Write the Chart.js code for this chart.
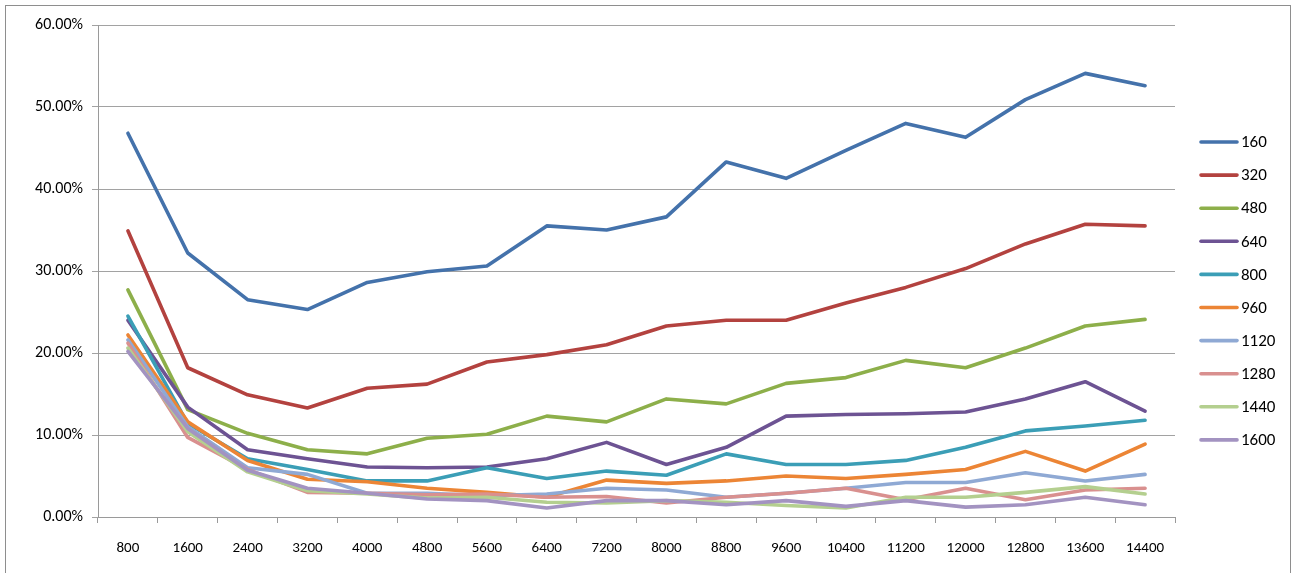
<!DOCTYPE html>
<html>
<head>
<meta charset="utf-8">
<title>Error rate by size</title>
<script src="https://cdn.jsdelivr.net/npm/chart.js@4.4.1/dist/chart.umd.min.js"></script>
<style>
  html, body { margin: 0; padding: 0; background: #fff; overflow: hidden; }
  #wrap { position: relative; width: 1295px; height: 573px; }
  #frame { position: absolute; left: 5px; top: 5px; width: 1286px; height: 600px;
           border: 1px solid #8e8e8e; box-sizing: border-box; pointer-events: none; }
  canvas { position: absolute; left: 0; top: 0; }
</style>
</head>
<body>
<div id="wrap">
  <canvas id="c" width="1295" height="573"></canvas>
  <div id="frame"></div>
</div>
<script>
// x categories
const categories = ['800','1600','2400','3200','4000','4800','5600','6400','7200',
  '8000','8800','9600','10400','11200','12000','12800','13600','14400'];

// series names
const seriesNames = ['160','320','480','640','800','960','1120','1280','1440','1600'];

// values in percent
const s160  = [46.8, 32.2, 26.5, 25.3, 28.6, 29.9, 30.6, 35.5, 35.0, 36.6, 43.3, 41.3, 44.7, 48.0, 46.3, 50.9, 54.1, 52.6];
const s320  = [34.9, 18.2, 14.9, 13.3, 15.7, 16.2, 18.9, 19.8, 21.0, 23.3, 24.0, 24.0, 26.1, 28.0, 30.3, 33.3, 35.7, 35.5];
const s480  = [27.7, 13.1, 10.2,  8.2,  7.7,  9.6, 10.1, 12.3, 11.6, 14.4, 13.8, 16.3, 17.0, 19.1, 18.2, 20.6, 23.3, 24.1];
const s640  = [24.0, 13.4,  8.2,  7.1,  6.1,  6.0,  6.1,  7.1,  9.1,  6.4,  8.5, 12.3, 12.5, 12.6, 12.8, 14.4, 16.5, 12.9];
const s800  = [24.5, 11.4,  7.1,  5.8,  4.4,  4.4,  6.0,  4.7,  5.6,  5.1,  7.7,  6.4,  6.4,  6.9,  8.5, 10.5, 11.1, 11.8];
const s960  = [22.2, 11.6,  6.9,  4.6,  4.3,  3.5,  3.0,  2.4,  4.5,  4.1,  4.4,  5.0,  4.7,  5.2,  5.8,  8.0,  5.6,  8.9];
const s1120 = [21.6, 11.0,  6.0,  5.2,  2.9,  2.9,  2.6,  2.8,  3.5,  3.3,  2.4,  2.9,  3.5,  4.2,  4.2,  5.4,  4.4,  5.2];
const s1280 = [21.2,  9.7,  5.8,  3.0,  2.9,  2.7,  2.8,  2.4,  2.5,  1.7,  2.4,  2.9,  3.5,  2.1,  3.5,  2.1,  3.3,  3.5];
const s1440 = [20.6, 10.4,  5.5,  3.2,  2.8,  2.3,  2.4,  1.8,  1.7,  2.0,  1.8,  1.4,  1.1,  2.4,  2.4,  3.0,  3.7,  2.8];
const s1600 = [20.2, 10.8,  5.7,  3.5,  2.9,  2.2,  2.0,  1.1,  2.0,  2.0,  1.5,  2.0,  1.3,  2.0,  1.2,  1.5,  2.4,  1.5];

// y-axis range
const yMin = 0, yMax = 60, yStep = 10;

const seriesValues = [s160, s320, s480, s640, s800, s960, s1120, s1280, s1440, s1600];
const colors = ['#4472AB', '#B3423F', '#8DAF4A', '#6D5393', '#3B9EB6',
                '#EC8535', '#8FA9D4', '#D9908F', '#B4CF8F', '#A393C1'];

const FONT = 'Carlito, Lato, "Liberation Sans", sans-serif';

const datasets = seriesNames.map((name, i) => ({
  label: name,
  data: seriesValues[i],
  borderColor: colors[i],
  backgroundColor: colors[i],
  borderWidth: 3.6,
  borderCapStyle: 'round',
  borderJoinStyle: 'round',
  pointRadius: 0,
  pointHoverRadius: 0,
  tension: 0,
  fill: false,
  order: seriesNames.length - i   // later series painted over earlier ones
}));

// Legend drawn as a single column to the right of the plot
const sideLegend = {
  id: 'sideLegend',
  afterDraw(chart) {
    const ctx = chart.ctx;
    const x0 = 1201, x1 = 1237, top = 142, gap = 33.1;
    ctx.save();
    ctx.font = '17px ' + FONT;
    ctx.textBaseline = 'middle';
    ctx.textAlign = 'left';
    chart.data.datasets.forEach((ds, i) => {
      const y = top + i * gap;
      ctx.strokeStyle = ds.borderColor;
      ctx.lineWidth = 3.6;
      ctx.lineCap = 'round';
      ctx.beginPath();
      ctx.moveTo(x0, y);
      ctx.lineTo(x1, y);
      ctx.stroke();
      ctx.fillStyle = '#000';
      ctx.fillText(ds.label, 1241, y + 1);
    });
    ctx.restore();
  }
};

new Chart(document.getElementById('c'), {
  type: 'line',
  data: { labels: categories, datasets },
  options: {
    responsive: false,
    animation: false,
    events: [],
    layout: { padding: { left: 0, right: 120, top: 25, bottom: 0 } },
    plugins: {
      legend: { display: false },
      tooltip: { enabled: false }
    },
    scales: {
      x: {
        offset: true,
        grid: {
          offset: true,
          drawOnChartArea: false,
          drawTicks: true,
          tickLength: 6,
          color: '#9a9a9a',
          lineWidth: 1
        },
        border: { display: true, color: '#9a9a9a', width: 1 },
        ticks: {
          color: '#000',
          font: { family: FONT, size: 15 },
          padding: 16,
          maxRotation: 0,
          autoSkip: false
        },
        afterFit(scale) { scale.height = 56; }
      },
      y: {
        min: yMin,
        max: yMax,
        grid: {
          color: '#a2a2a2',
          lineWidth: 1,
          drawTicks: true,
          tickLength: 6
        },
        border: { display: true, color: '#9a9a9a', width: 1 },
        ticks: {
          stepSize: yStep,
          color: '#000',
          font: { family: FONT, size: 16 },
          padding: 9,
          callback: v => v.toFixed(2) + '%'
        },
        afterFit(scale) { scale.width = 98; }
      }
    }
  },
  plugins: [sideLegend]
});
</script>
</body>
</html>
